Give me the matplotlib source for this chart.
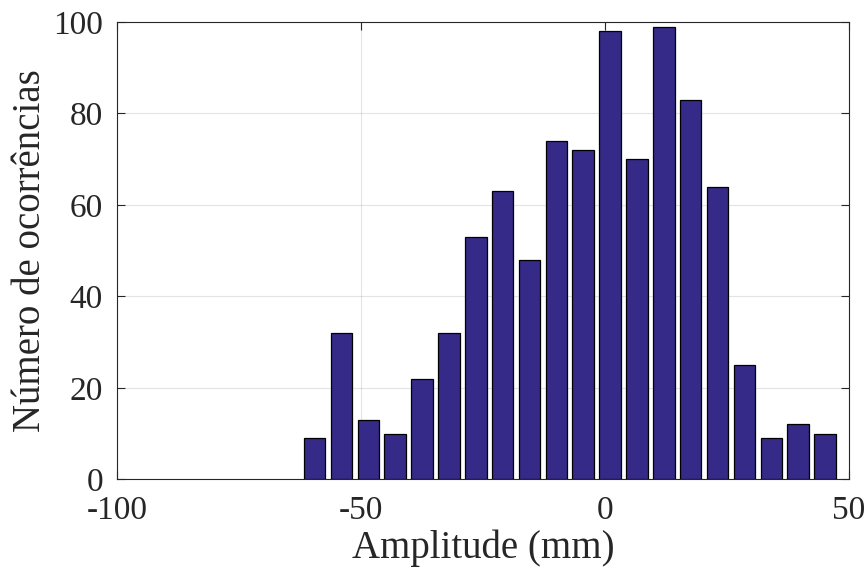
import numpy as np
import matplotlib.pyplot as plt

# Dados (centros das classes e contagens)
centros = -59.5 + 5.505 * np.arange(20)
contagens = [9, 32, 13, 10, 22, 32, 53, 63, 48, 74, 72, 98, 70, 99, 83, 64, 25, 9, 12, 10]

plt.rcParams['font.family'] = ['Liberation Serif', 'DejaVu Serif']
plt.rcParams['axes.unicode_minus'] = False

fig = plt.figure(figsize=(8.68, 5.75), dpi=100)
ax = fig.add_axes([0.1348, 0.1664, 0.8432, 0.7953])

ax.bar(centros, contagens, width=5.505 * 0.8, color='#352a87',
       edgecolor='black', linewidth=0.9, zorder=3)

ax.set_xlim(-100, 50)
ax.set_ylim(0, 100)
ax.set_xticks([-100, -50, 0, 50])
ax.set_yticks([0, 20, 40, 60, 80, 100])

ax.grid(True, color='#262626', alpha=0.12, linewidth=0.8, zorder=0)
ax.tick_params(direction='in', top=True, right=True, length=6,
               width=0.8, labelsize=24, colors='#262626')
ax.tick_params(axis='x', pad=12)
ax.tick_params(axis='y', pad=10)
for s in ax.spines.values():
    s.set_color('#262626')
    s.set_linewidth(0.8)

ax.set_xlabel('Amplitude (mm)', fontsize=28, color='#262626', labelpad=2)
ax.set_ylabel('Número de ocorrências', fontsize=28, color='#262626', labelpad=3)

fig.savefig('out.png', dpi=100)
